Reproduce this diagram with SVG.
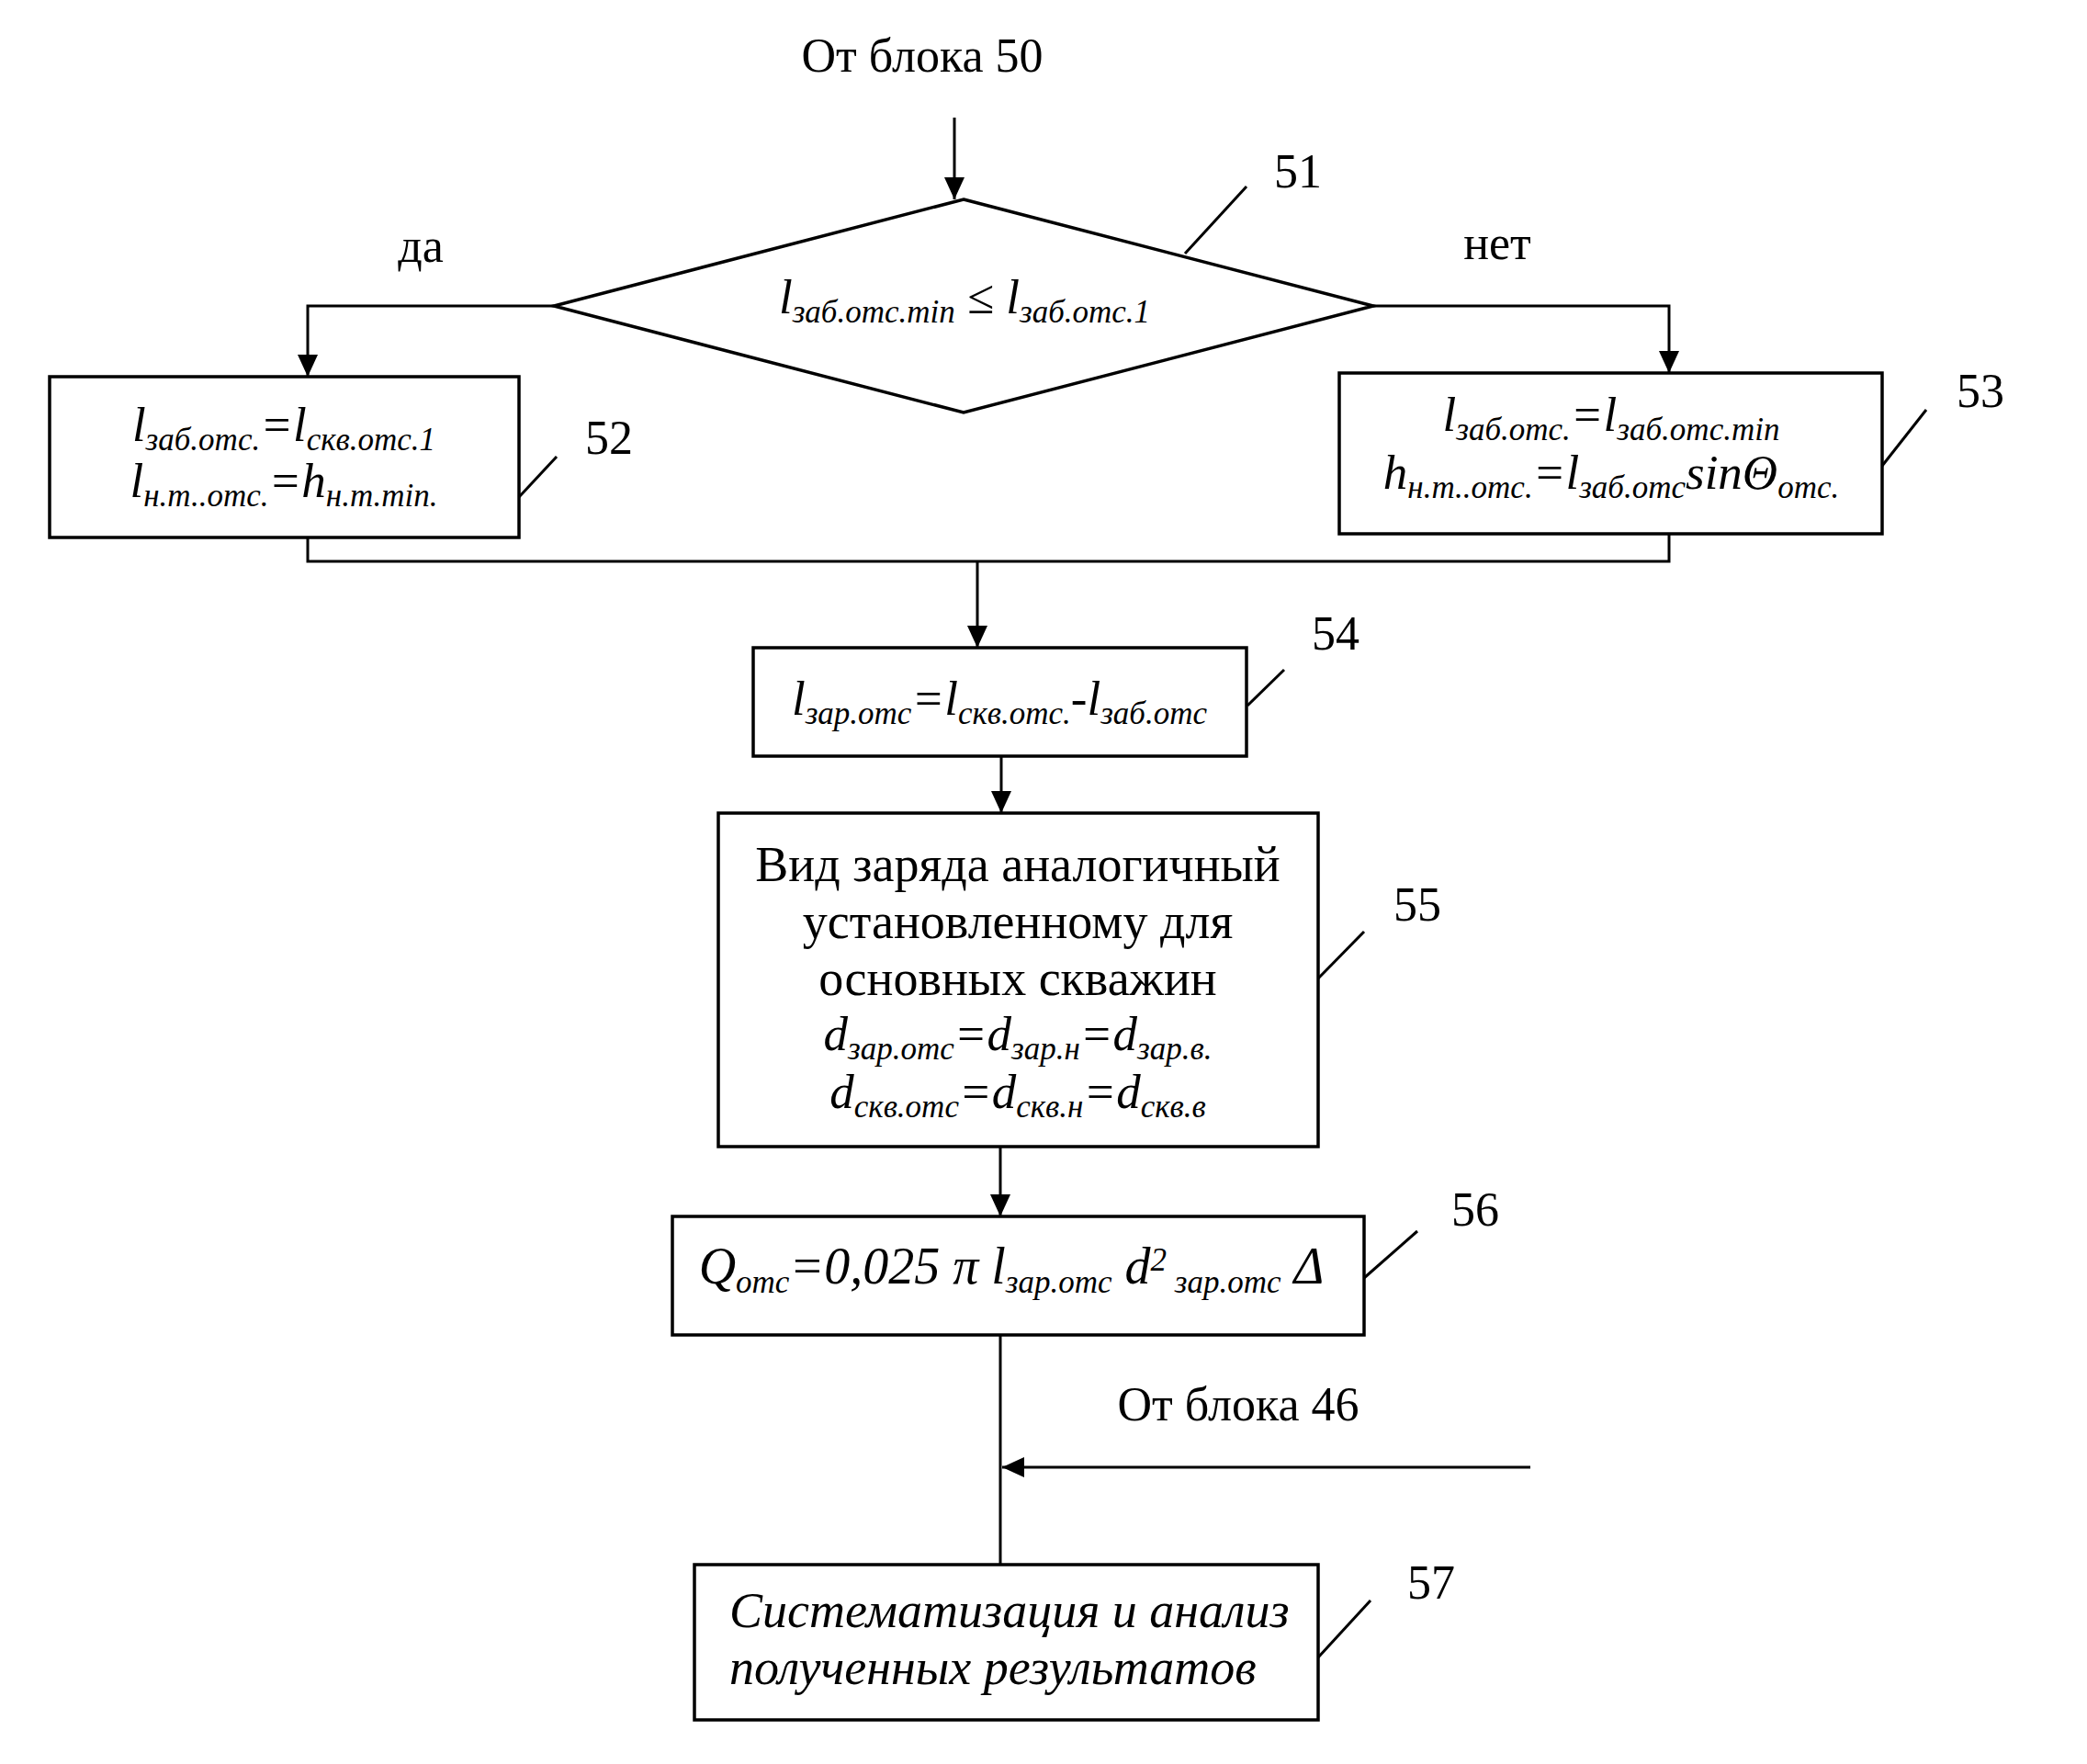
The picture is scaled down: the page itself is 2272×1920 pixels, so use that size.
<svg xmlns="http://www.w3.org/2000/svg" width="2272" height="1920" viewBox="0 0 2272 1920">
<style>
.box{fill:#fff;stroke:#000;stroke-width:3.5}
.ln{fill:none;stroke:#000;stroke-width:3}
.lbl{font-family:"Liberation Serif",serif;font-size:52px;fill:#000}
.txt{font-family:"Liberation Serif",serif;font-size:54px;fill:#000;text-anchor:middle}
.f{font-family:"Liberation Serif",serif;font-style:italic;font-size:53px;fill:#000;text-anchor:middle}
.s{font-size:35px}
</style>
<defs>
<marker id="ah" markerUnits="userSpaceOnUse" markerWidth="24" markerHeight="36" viewBox="0 0 24 36" refX="24" refY="18" orient="auto">
<path d="M0,7 L24,18 L0,29 Z" fill="#000"/>
</marker>
</defs>
<rect width="2272" height="1920" fill="#fff"/>

<g id="connectors">
<line class="ln" x1="1039" y1="128" x2="1039" y2="217" marker-end="url(#ah)"/>
<polyline class="ln" points="603,333 335,333 335,410" marker-end="url(#ah)"/>
<polyline class="ln" points="1495,333 1817,333 1817,406" marker-end="url(#ah)"/>
<polyline class="ln" points="335,585 335,611 1817,611 1817,581"/>
<line class="ln" x1="1064" y1="611" x2="1064" y2="705" marker-end="url(#ah)"/>
<line class="ln" x1="1090" y1="823" x2="1090" y2="885" marker-end="url(#ah)"/>
<line class="ln" x1="1089" y1="1248" x2="1089" y2="1324" marker-end="url(#ah)"/>
<line class="ln" x1="1089" y1="1453" x2="1089" y2="1703"/>
<line class="ln" x1="1666" y1="1597" x2="1091" y2="1597" marker-end="url(#ah)"/>
</g>

<g id="labels">
<text class="lbl" x="1004" y="78" text-anchor="middle">От блока 50</text>
<text class="lbl" x="458" y="285" text-anchor="middle">да</text>
<text class="lbl" x="1630" y="282" text-anchor="middle">нет</text>
<text class="lbl" x="1348" y="1546" text-anchor="middle">От блока 46</text>
</g>

<g id="node51">
<polygon class="box" points="1049,217 1495,333 1049,449 603,333"/>
<text class="f" x="1050" y="341">l<tspan class="s" dy="10">заб.отс.min</tspan><tspan dy="-10"> ≤ l</tspan><tspan class="s" dy="10">заб.отс.1</tspan></text>
<line class="ln" x1="1290" y1="276" x2="1357" y2="203"/>
<text class="lbl" x="1413" y="204" text-anchor="middle">51</text>
</g>

<g id="node52">
<rect class="box" x="54" y="410" width="511" height="175"/>
<text class="f" x="309" y="480">l<tspan class="s" dy="10">заб.отс.</tspan><tspan dy="-10">=l</tspan><tspan class="s" dy="10">скв.отс.1</tspan></text>
<text class="f" x="309" y="541">l<tspan class="s" dy="10">н.т..отс.</tspan><tspan dy="-10">=h</tspan><tspan class="s" dy="10">н.т.min.</tspan></text>
<line class="ln" x1="565" y1="541" x2="606" y2="497"/>
<text class="lbl" x="663" y="494" text-anchor="middle">52</text>
</g>

<g id="node53">
<rect class="box" x="1458" y="406" width="591" height="175"/>
<text class="f" x="1754" y="469">l<tspan class="s" dy="10">заб.отс.</tspan><tspan dy="-10">=l</tspan><tspan class="s" dy="10">заб.отс.min</tspan></text>
<text class="f" x="1754" y="532">h<tspan class="s" dy="10">н.т..отс.</tspan><tspan dy="-10">=l</tspan><tspan class="s" dy="10">заб.отс</tspan><tspan dy="-10">sinΘ</tspan><tspan class="s" dy="10">отс.</tspan></text>
<line class="ln" x1="2049" y1="507" x2="2097" y2="446"/>
<text class="lbl" x="2156" y="443" text-anchor="middle">53</text>
</g>

<g id="node54">
<rect class="box" x="820" y="705" width="537" height="118"/>
<text class="f" x="1088" y="778">l<tspan class="s" dy="10">зар.отс</tspan><tspan dy="-10">=l</tspan><tspan class="s" dy="10">скв.отс.</tspan><tspan dy="-10">-l</tspan><tspan class="s" dy="10">заб.отс</tspan></text>
<line class="ln" x1="1358" y1="768" x2="1398" y2="729"/>
<text class="lbl" x="1454" y="707" text-anchor="middle">54</text>
</g>

<g id="node55">
<rect class="box" x="782" y="885" width="653" height="363"/>
<text class="txt" x="1108" y="959">Вид заряда аналогичный</text>
<text class="txt" x="1108" y="1021">установленному для</text>
<text class="txt" x="1108" y="1083">основных скважин</text>
<text class="f" x="1108" y="1143">d<tspan class="s" dy="10">зар.отс</tspan><tspan dy="-10">=d</tspan><tspan class="s" dy="10">зар.н</tspan><tspan dy="-10">=d</tspan><tspan class="s" dy="10">зар.в.</tspan></text>
<text class="f" x="1108" y="1206">d<tspan class="s" dy="10">скв.отс</tspan><tspan dy="-10">=d</tspan><tspan class="s" dy="10">скв.н</tspan><tspan dy="-10">=d</tspan><tspan class="s" dy="10">скв.в</tspan></text>
<line class="ln" x1="1435" y1="1065" x2="1485" y2="1014"/>
<text class="lbl" x="1543" y="1002" text-anchor="middle">55</text>
</g>

<g id="node56">
<rect class="box" x="732" y="1324" width="753" height="129"/>
<text class="f" x="1101" y="1397" style="font-size:56px">Q<tspan class="s" dy="10">отс</tspan><tspan dy="-10">=0,025 π l</tspan><tspan class="s" dy="10">зар.отс</tspan><tspan dy="-10"> d</tspan><tspan class="s" dy="-14">2</tspan><tspan class="s" dy="24"> зар.отс</tspan><tspan dy="-10"> Δ</tspan></text>
<line class="ln" x1="1485" y1="1391" x2="1543" y2="1340"/>
<text class="lbl" x="1606" y="1334" text-anchor="middle">56</text>
</g>

<g id="node57">
<rect class="box" x="756" y="1703" width="679" height="169"/>
<text class="f" x="794" y="1771" style="font-size:54px;text-anchor:start">Систематизация и анализ</text>
<text class="f" x="794" y="1833" style="font-size:54px;text-anchor:start">полученных результатов</text>
<line class="ln" x1="1435" y1="1804" x2="1492" y2="1742"/>
<text class="lbl" x="1558" y="1740" text-anchor="middle">57</text>
</g>
</svg>
